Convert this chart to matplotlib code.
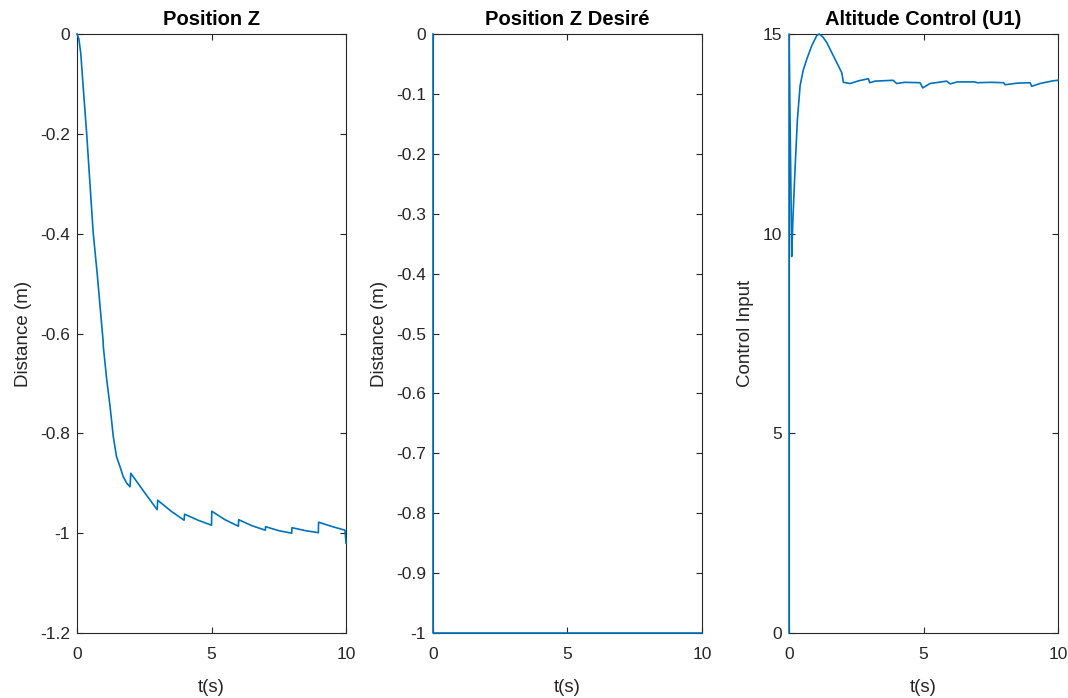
import matplotlib.pyplot as plt

plt.rcParams['font.family'] = ['Liberation Sans', 'DejaVu Sans']

# Position Z (sawtooth with small jumps at each second)
t_z = [0, 0.07, 0.14, 0.23, 0.36, 0.6, 0.75, 0.97, 0.98, 1.1, 1.23, 1.35, 1.47, 1.6, 1.72, 1.85, 1.97,
       2.0, 2.49, 2.98, 3.0, 3.5, 3.98, 4.0, 4.5, 5.0, 5.01, 5.5, 6.0, 6.01, 6.5, 7.0, 7.01, 7.5, 7.98, 7.99,
       8.5, 8.97, 8.98, 9.5, 9.96, 10.0]
z_pos = [0, -0.01, -0.039, -0.106, -0.2, -0.397, -0.48, -0.615, -0.627, -0.69, -0.747, -0.807, -0.847, -0.867,
         -0.887, -0.9, -0.907,
         -0.88, -0.917, -0.953, -0.934, -0.956, -0.974, -0.962, -0.974, -0.984, -0.956, -0.973, -0.986, -0.973,
         -0.985, -0.994, -0.987, -0.995, -1.0, -0.989, -0.995, -0.999, -0.978, -0.987, -0.994, -1.02]

# Position Z desired
t_zd = [0, 0, 10]
z_des = [0, -1, -1]

# Altitude control U1
t_u = [0, 0, 0.1, 0.14, 0.22, 0.31, 0.41, 0.53, 0.66, 0.84, 1.03, 1.12, 1.25, 1.4, 1.65, 1.96,
       2.02, 2.27, 2.6, 2.95, 3.0, 3.2, 3.87, 4.0, 4.3, 4.87, 4.97, 5.24, 5.86, 5.99,
       6.25, 6.9, 7.0, 7.5, 7.97, 8.03, 8.5, 8.96, 9.02, 9.33, 9.83, 10.0]
u1 = [0, 15, 9.43, 10.3, 11.58, 12.85, 13.7, 14.1, 14.37, 14.7, 14.96, 15.0, 14.93, 14.79, 14.45, 14.03,
      13.79, 13.76, 13.83, 13.88, 13.78, 13.82, 13.84, 13.76, 13.79, 13.78, 13.65, 13.76, 13.82, 13.75,
      13.8, 13.8, 13.78, 13.79, 13.78, 13.73, 13.77, 13.78, 13.69, 13.76, 13.83, 13.84]

line_color = '#0072BD'
axis_color = '#262626'

fig = plt.figure(figsize=(10.68, 6.98), dpi=100)

panels = [
    (0.0721, t_z, z_pos, 'Position Z', 'Distance (m)', (-1.2, 0), [-1.2, -1, -0.8, -0.6, -0.4, -0.2, 0],
     ['-1.2', '-1', '-0.8', '-0.6', '-0.4', '-0.2', '0']),
    (0.4054, t_zd, z_des, 'Position Z Desiré', 'Distance (m)', (-1, 0),
     [-1, -0.9, -0.8, -0.7, -0.6, -0.5, -0.4, -0.3, -0.2, -0.1, 0],
     ['-1', '-0.9', '-0.8', '-0.7', '-0.6', '-0.5', '-0.4', '-0.3', '-0.2', '-0.1', '0']),
    (0.7388, t_u, u1, 'Altitude Control (U1)', 'Control Input', (0, 15), [0, 5, 10, 15],
     ['0', '5', '10', '15']),
]

for left, tx, ty, title, ylabel, ylim, yticks, ylabels in panels:
    ax = fig.add_axes([left, 0.0931, 0.2519, 0.8582])
    ax.plot(tx, ty, color=line_color, lw=1.2, clip_on=False, zorder=3)
    ax.set_xlim(0, 10)
    ax.set_ylim(*ylim)
    ax.set_xticks([0, 5, 10])
    ax.set_xticklabels(['0', '5', '10'])
    ax.set_yticks(yticks)
    ax.set_yticklabels(ylabels)
    ax.tick_params(direction='in', top=True, right=True, length=4, width=0.8,
                   colors=axis_color, labelsize=12.5, pad=5)
    ax.tick_params(axis='x', pad=10)
    for sp in ax.spines.values():
        sp.set_color(axis_color)
        sp.set_linewidth(0.8)
    ax.set_title(title, fontsize=14.5, fontweight='bold', color='black', pad=6.5)
    ax.set_xlabel('t(s)', fontsize=13.5, color=axis_color, labelpad=12)
    ax.set_ylabel(ylabel, fontsize=13.5, color=axis_color, labelpad=6)

fig.savefig('out.png', dpi=100, facecolor='white')
